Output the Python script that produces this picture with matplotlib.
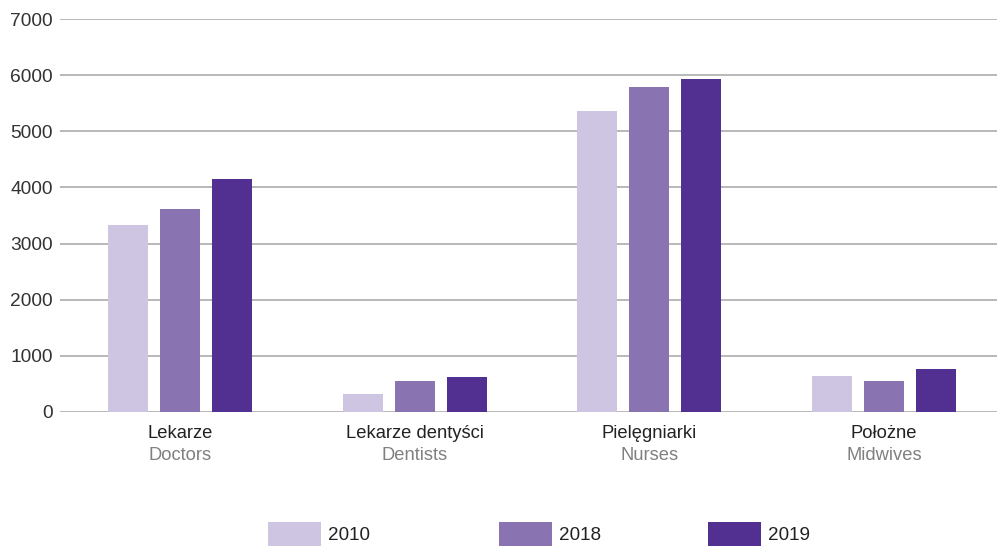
import matplotlib
matplotlib.use("Agg")
import matplotlib.pyplot as plt
from matplotlib.patches import Rectangle
import numpy as np

plt.rcParams['font.family'] = ['Liberation Sans', 'DejaVu Sans']

categories_pl = ["Lekarze", "Lekarze dentyści", "Pielęgniarki", "Położne"]
categories_en = ["Doctors", "Dentists", "Nurses", "Midwives"]
years = ["2010", "2018", "2019"]
values_2010 = [3330, 315, 5360, 636]
values_2018 = [3615, 552, 5790, 552]
values_2019 = [4143, 629, 5932, 766]
yticks = [0, 1000, 2000, 3000, 4000, 5000, 6000, 7000]

colors = ["#cdc5e1", "#8973b1", "#523092"]
series = [values_2010, values_2018, values_2019]

W, H = 997, 546
fig = plt.figure(figsize=(W / 100, H / 100), dpi=100)
ax = fig.add_axes([60 / W, (H - 412) / H, 937 / W, 393 / H])

x = np.arange(len(categories_pl))
bw = 0.1705
off = 0.2216
for i, (vals, c) in enumerate(zip(series, colors)):
    ax.bar(x + (i - 1) * off, vals, width=bw, color=c, zorder=3)

ax.set_ylim(0, 7000)
ax.set_xlim(-0.511, 3.481)
ax.set_yticks(yticks)
ax.set_yticklabels([str(t) for t in yticks], fontsize=13.8, color="#333333")
ax.yaxis.grid(True, color="#a6a6a6", linewidth=1.1, zorder=0)
ax.tick_params(axis="y", length=0, pad=5)
ax.set_xticks(x)
ax.set_xticklabels([])
ax.tick_params(axis="x", length=0)
for s in ax.spines.values():
    s.set_visible(False)

trans = ax.get_xaxis_transform()
for xi, pl, en in zip(x, categories_pl, categories_en):
    ax.text(xi, -(434 - 412) / 393, pl, transform=trans, ha="center",
            va="center", fontsize=13.2, color="#222222")
    ax.text(xi, -(456 - 412) / 393, en, transform=trans, ha="center",
            va="center", fontsize=13.2, color="#808080")

# legend
patch_x = [268, 499, 708]
for px, yr, c in zip(patch_x, years, colors):
    fig.add_artist(Rectangle((px / W, (H - 546) / H), 53 / W, 24 / H,
                             transform=fig.transFigure, facecolor=c,
                             edgecolor="none"))
    fig.text((px + 60) / W, (H - 536) / H, yr, ha="left", va="center",
             fontsize=13.6, color="#222222")

fig.savefig("out.png", dpi=100)
